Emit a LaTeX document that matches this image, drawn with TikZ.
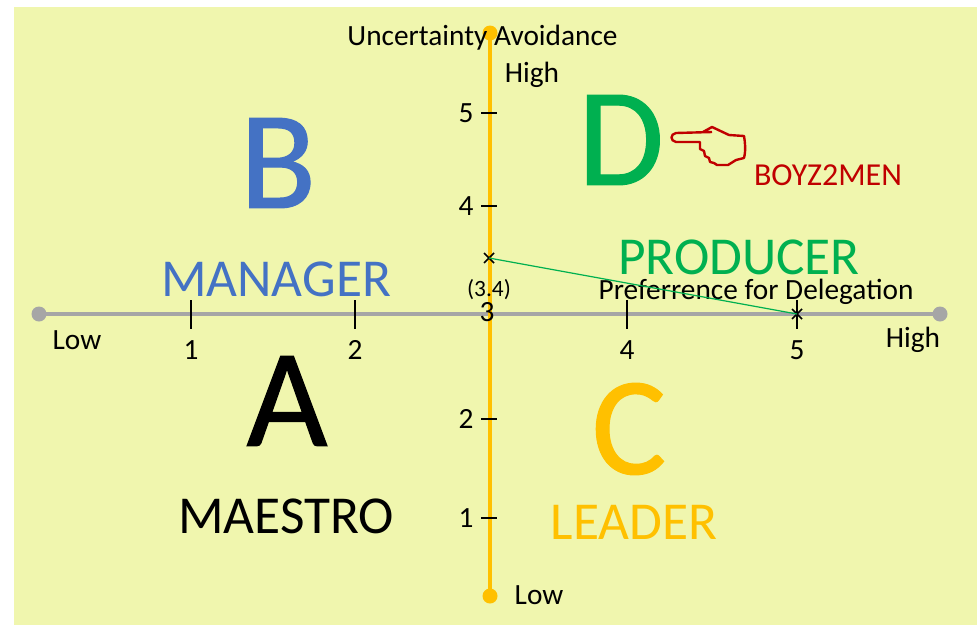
\documentclass[tikz,border=0pt]{standalone}
\usepackage{fontspec}
\setmainfont{Carlito}
\newfontfamily\heavyf[FakeBold=0.8]{Carlito}
\definecolor{bgc}{HTML}{F0F6AE}
\definecolor{axg}{HTML}{A6A6A6}
\definecolor{axy}{HTML}{FFC000}
\definecolor{cgreen}{HTML}{00B050}
\definecolor{cblue}{HTML}{4472C4}
\definecolor{cred}{HTML}{C00000}
\tikzset{
 lab/.style={inner sep=0pt,outer sep=0pt,anchor=center,font=\fontsize{22}{22}\selectfont},
 small/.style={lab,font=\fontsize{17.5}{17.5}\selectfont},
 big/.style={lab,font=\heavyf\fontsize{105}{105}\selectfont},
 word/.style={lab,font=\fontsize{40}{40}\selectfont},
 tickm/.style={black,line width=1.5pt},
 cross/.style={black,line width=1.3pt},
 enddot/.style={circle,inner sep=0pt,minimum size=11.25pt,fill=#1},
}
\begin{document}
\begin{tikzpicture}[x=0.75pt,y=-0.75pt]
\useasboundingbox (0,0) rectangle (977,625);
\fill[white] (0,0) rectangle (977,625);
\fill[bgc] (14,7) rectangle (977,625);
% axes
\node[enddot=axg] (xl) at (39,314) {};
\node[enddot=axg] (xr) at (940,314) {};
\node[enddot=axy] (yt) at (490,33) {};
\node[enddot=axy] (yb) at (490,596) {};
\draw[axg,line width=3pt] (xl.center) -- (xr.center);
\draw[axy,line width=3.4pt] (yt.center) -- (yb.center);
% ticks x
\foreach \x/\n in {191/1,355/2,627/4,797/5}{
  \coordinate (xa\n) at (\x,300); \coordinate (xb\n) at (\x,329);
  \draw[tickm] (xa\n) -- (xb\n);
  \node[lab] (xn\n) at (\x,350) {\n};
}
\node[lab] (xn3) at (487,312) {3};
% ticks y
\foreach \y/\n in {113/5,206/4,419/2,518/1}{
  \coordinate (ya\n) at (481,\y); \coordinate (yb\n) at (497,\y);
  \draw[tickm] (ya\n) -- (yb\n);
  \node[lab] (yn\n) at (466,\y) {\n};
}
% labels
\node[lab] (ua) at (482.5,38) {Uncertainty Avoidance};
\node[lab] (hi1) at (532,75) {High};
\node[lab] (lo1) at (539,595) {Low};
\node[lab] (lo2) at (77,340) {Low};
\node[lab] (hi2) at (913,340) {High};
\node[lab] (pd) at (756,291.5) {Preferrence for Delegation};
\node[small] (pt) at (489,290) {(3.4)};
% letters
\node[big,text=cblue] (B) at (278,163) {B};
\node[big,text=cgreen] (D) at (621,140) {D};
\node[big,text=black] (A) at (287,401) {A};
\node[big,text=axy] (C) at (629,429) {C};
\node[word,text=cblue] (mg) at (276,279) {MANAGER};
\node[word,text=cgreen] (pr) at (739,257) {PRODUCER};
\node[word,text=black] (ma) at (286,516) {MAESTRO};
\node[word,text=axy] (le) at (634,522) {LEADER};
\node[lab,text=cred,font=\fontsize{24}{24}\selectfont] (bz) at (828,175) {BOYZ2MEN};
% crosses and link
\coordinate (p1) at (489,258);
\coordinate (p2) at (797,314);
\draw[cross] (484,253) -- (494,263) (484,263) -- (494,253);
\draw[cross] (792,309) -- (802,319) (792,319) -- (802,309);
\draw[cgreen,line width=0.9pt] (p1) -- (p2);
% hand
\draw[cred,line width=1.8pt,line join=round,fill=bgc]
 (712,132) -- (676,133) .. controls (670,134) and (670,141) .. (676,142)
 -- (700,142) -- (700,149) -- (704,151) -- (705,156) -- (709,158) -- (710,162) -- (714,163)
 -- (717,165) -- (728,165) -- (736,160) -- (744,158) .. controls (746,150) and (745,142) .. (744,136)
 -- (729,135) -- (712,127) -- (703,132);
\end{tikzpicture}
\end{document}
